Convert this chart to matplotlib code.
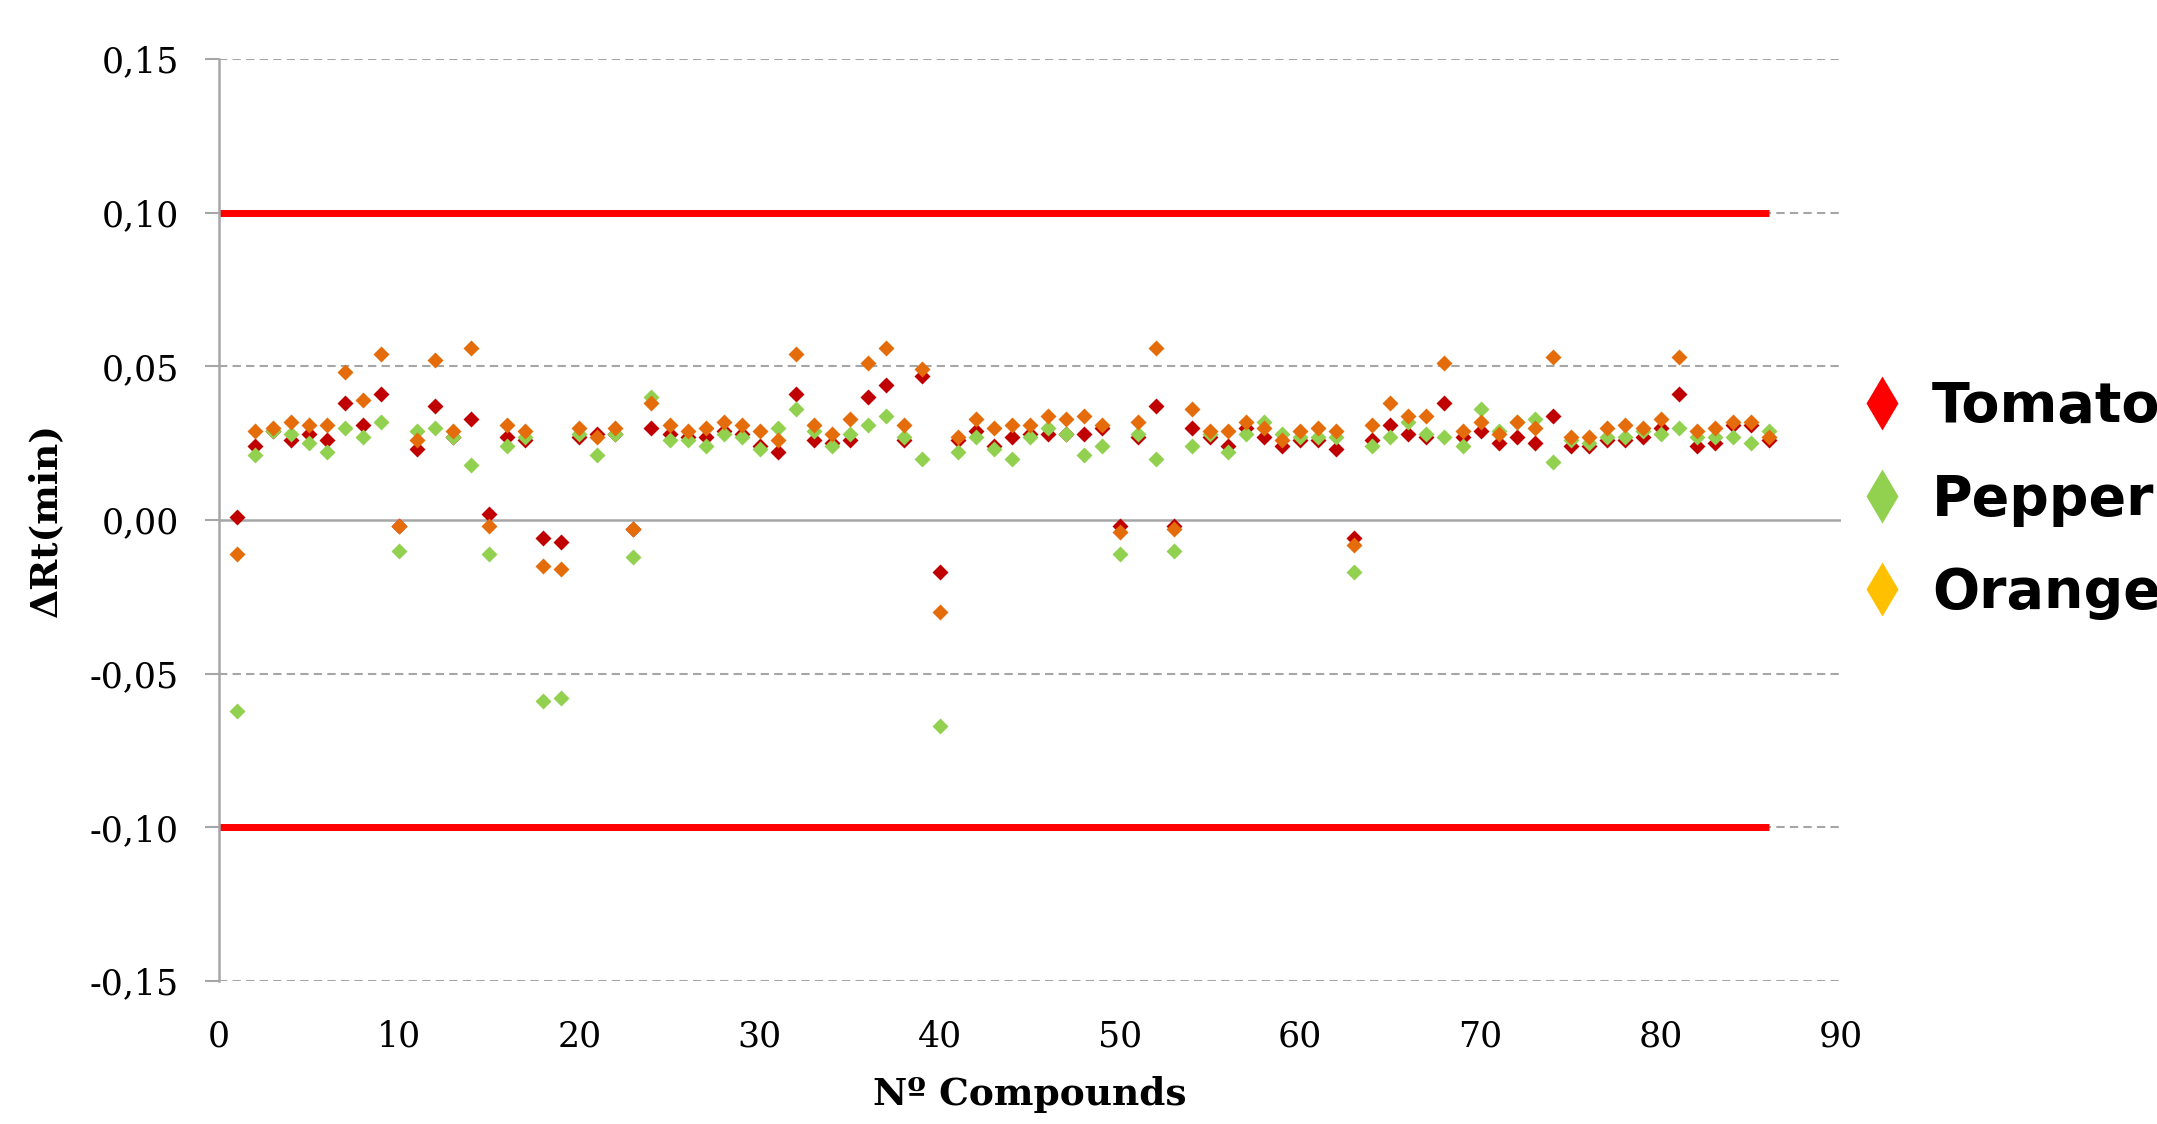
from matplotlib import pyplot as plt
from matplotlib.lines import Line2D
from matplotlib.ticker import FuncFormatter

# data
compounds = list(range(1, 87))

tomato = [0.001, 0.024, 0.029, 0.026, 0.028, 0.026, 0.038, 0.031, 0.041, -0.002,
          0.023, 0.037, 0.027, 0.033, 0.002, 0.027, 0.026, -0.006, -0.007, 0.027,
          0.028, 0.028, -0.003, 0.030, 0.028, 0.027, 0.027, 0.029, 0.028, 0.024,
          0.022, 0.041, 0.026, 0.025, 0.026, 0.040, 0.044, 0.026, 0.047, -0.017,
          0.026, 0.029, 0.024, 0.027, 0.028, 0.028, 0.028, 0.028, 0.030, -0.002,
          0.027, 0.037, -0.002, 0.030, 0.027, 0.024, 0.030, 0.027, 0.024, 0.026,
          0.026, 0.023, -0.006, 0.026, 0.031, 0.028, 0.027, 0.038, 0.027, 0.029,
          0.025, 0.027, 0.025, 0.034, 0.024, 0.024, 0.026, 0.026, 0.027, 0.030,
          0.041, 0.024, 0.025, 0.031, 0.031, 0.026]

pepper = [-0.062, 0.021, 0.029, 0.028, 0.025, 0.022, 0.030, 0.027, 0.032, -0.010,
          0.029, 0.030, 0.027, 0.018, -0.011, 0.024, 0.027, -0.059, -0.058, 0.028,
          0.021, 0.028, -0.012, 0.040, 0.026, 0.026, 0.024, 0.028, 0.027, 0.023,
          0.030, 0.036, 0.029, 0.024, 0.028, 0.031, 0.034, 0.027, 0.020, -0.067,
          0.022, 0.027, 0.023, 0.020, 0.027, 0.030, 0.028, 0.021, 0.024, -0.011,
          0.028, 0.020, -0.010, 0.024, 0.028, 0.022, 0.028, 0.032, 0.028, 0.027,
          0.027, 0.027, -0.017, 0.024, 0.027, 0.032, 0.028, 0.027, 0.024, 0.036,
          0.029, 0.032, 0.033, 0.019, 0.026, 0.025, 0.027, 0.027, 0.029, 0.028,
          0.030, 0.027, 0.027, 0.027, 0.025, 0.029]

orange = [-0.011, 0.029, 0.030, 0.032, 0.031, 0.031, 0.048, 0.039, 0.054, -0.002,
          0.026, 0.052, 0.029, 0.056, -0.002, 0.031, 0.029, -0.015, -0.016, 0.030,
          0.027, 0.030, -0.003, 0.038, 0.031, 0.029, 0.030, 0.032, 0.031, 0.029,
          0.026, 0.054, 0.031, 0.028, 0.033, 0.051, 0.056, 0.031, 0.049, -0.030,
          0.027, 0.033, 0.030, 0.031, 0.031, 0.034, 0.033, 0.034, 0.031, -0.004,
          0.032, 0.056, -0.003, 0.036, 0.029, 0.029, 0.032, 0.030, 0.026, 0.029,
          0.030, 0.029, -0.008, 0.031, 0.038, 0.034, 0.034, 0.051, 0.029, 0.032,
          0.028, 0.032, 0.030, 0.053, 0.027, 0.027, 0.030, 0.031, 0.030, 0.033,
          0.053, 0.029, 0.030, 0.032, 0.032, 0.027]

limit_x = [0, 86]
limit = 0.10

series_names = ['Tomato', 'Pepper', 'Orange']
marker_colors = ['#C00000', '#92D050', '#E46C0A']
legend_colors = ['#FF0000', '#92D050', '#FFC000']

grid_color = '#A6A6A6'

fig = plt.figure(figsize=(21.57, 11.24), dpi=100)
ax = fig.add_axes([0.1015, 0.1272, 0.752, 0.8203])

# dashed gridlines + solid zero axis
for y in [-0.15, -0.10, -0.05, 0.05, 0.10, 0.15]:
    ax.axhline(y, color=grid_color, lw=1.5, ls=(0, (4, 2.5)), zorder=0)
ax.axhline(0, color=grid_color, lw=1.8, zorder=1)

# tolerance limits
ax.plot(limit_x, [limit, limit], color='#FF0000', lw=5, solid_capstyle='butt', zorder=2)
ax.plot(limit_x, [-limit, -limit], color='#FF0000', lw=5, solid_capstyle='butt', zorder=2)

for vals, c in zip([tomato, pepper, orange], marker_colors):
    ax.plot(compounds, vals, ls='none', marker='D', ms=8.5, mfc=c, mec='none', zorder=3)

ax.set_xlim(0, 90)
ax.set_ylim(-0.15, 0.15)
ax.set_xticks(range(0, 91, 10))
ax.set_yticks([-0.15, -0.10, -0.05, 0, 0.05, 0.10, 0.15])
ax.yaxis.set_major_formatter(FuncFormatter(lambda v, p: f'{v:.2f}'.replace('.', ',')))

for s in ['top', 'right', 'bottom']:
    ax.spines[s].set_visible(False)
ax.spines['left'].set_color(grid_color)
ax.spines['left'].set_linewidth(1.8)

ax.tick_params(axis='y', length=10, width=1.5, color=grid_color, pad=19,
               labelsize=25, labelfontfamily='DejaVu Serif')
ax.tick_params(axis='x', length=0, pad=28, labelsize=25, labelfontfamily='DejaVu Serif')

ax.set_xlabel('Nº Compounds', fontsize=27, fontweight='bold', family='DejaVu Serif', labelpad=16)
ax.set_ylabel('ΔRt(min)', fontsize=27, fontweight='bold', family='DejaVu Serif', labelpad=18)

handles = [Line2D([], [], ls='none', marker='d', ms=27, mfc=c, mec='none') for c in legend_colors]
leg = fig.legend(handles, series_names, loc='center left', bbox_to_anchor=(0.839, 0.555),
                 frameon=False, handlelength=0.8, handletextpad=0.5, labelspacing=0.7,
                 prop={'family': 'DejaVu Sans', 'weight': 'bold', 'size': 40})

fig.savefig('out.png', dpi=100)
